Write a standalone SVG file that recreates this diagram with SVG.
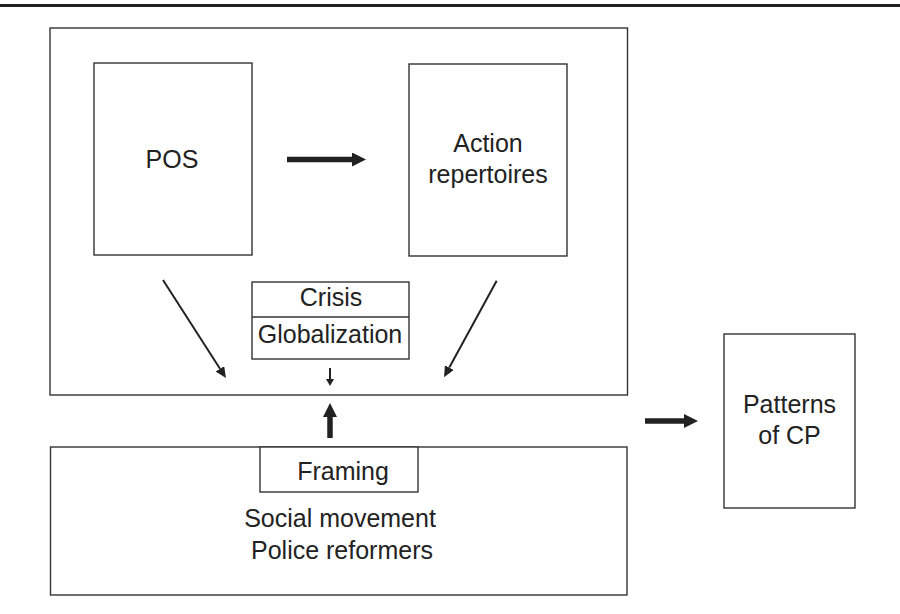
<svg xmlns="http://www.w3.org/2000/svg" width="900" height="614" viewBox="0 0 900 614">
  <defs>
    <style>
      .box { fill: #ffffff; stroke: #333333; stroke-width: 1.4; }
      .lbl { font-family: "Liberation Sans", Arial, sans-serif; font-size: 25px; fill: #222222; text-anchor: middle; }
      .thin { stroke: #222222; stroke-width: 2; fill: none; }
      .thick { stroke: #222222; stroke-width: 5.5; fill: none; }
    </style>
    <marker id="headThin" markerUnits="userSpaceOnUse" markerWidth="11" markerHeight="10" refX="0" refY="5" orient="auto">
      <path d="M0,0 L11,5 L0,10 z" fill="#222222"/>
    </marker>
    <marker id="headSmall" markerUnits="userSpaceOnUse" markerWidth="7" markerHeight="8" refX="0" refY="4" orient="auto">
      <path d="M0,0 L7,4 L0,8 z" fill="#222222"/>
    </marker>
    <marker id="headThick" markerUnits="userSpaceOnUse" markerWidth="14" markerHeight="14" refX="0" refY="7" orient="auto">
      <path d="M0,0 L14,7 L0,14 z" fill="#222222"/>
    </marker>
  </defs>

  <rect width="900" height="614" fill="#ffffff"/>
  <line x1="0" y1="5.5" x2="900" y2="5.5" stroke="#222222" stroke-width="3"/>

  <g id="context">
    <rect class="box" x="50" y="28" width="577.5" height="367"/>
  </g>

  <g id="pos">
    <rect class="box" x="94" y="63" width="158" height="192"/>
    <text class="lbl" x="172" y="168">POS</text>
  </g>

  <g id="action-repertoires">
    <rect class="box" x="409" y="64" width="158" height="192"/>
    <text class="lbl" x="488" y="152">Action</text>
    <text class="lbl" x="488" y="183">repertoires</text>
  </g>

  <g id="crisis-globalization">
    <rect class="box" x="252" y="282" width="157" height="77"/>
    <line x1="252" y1="317" x2="409" y2="317" stroke="#333333" stroke-width="1.4"/>
    <text class="lbl" x="331" y="306">Crisis</text>
    <text class="lbl" x="330" y="343">Globalization</text>
  </g>

  <g id="actors">
    <rect class="box" x="50.5" y="447" width="576.5" height="148"/>
    <text class="lbl" x="340" y="527">Social movement</text>
    <text class="lbl" x="342" y="559">Police reformers</text>
  </g>

  <g id="framing">
    <rect class="box" x="260" y="447" width="158" height="45"/>
    <text class="lbl" x="343" y="480">Framing</text>
  </g>

  <g id="patterns-of-cp">
    <rect class="box" x="724" y="334" width="131" height="174"/>
    <text class="lbl" x="789.5" y="413">Patterns</text>
    <text class="lbl" x="789.5" y="444">of CP</text>
  </g>

  <g id="connectors">
    <line class="thick" x1="287" y1="159.5" x2="352" y2="159.5" marker-end="url(#headThick)"/>
    <line class="thin" x1="163" y1="280" x2="220" y2="368.8" marker-end="url(#headThin)"/>
    <line class="thin" x1="496.7" y1="280.7" x2="449.3" y2="367.6" marker-end="url(#headThin)"/>
    <line class="thin" x1="330" y1="368" x2="330" y2="379" marker-end="url(#headSmall)"/>
    <line class="thick" x1="330" y1="438" x2="330" y2="417" marker-end="url(#headThick)"/>
    <line class="thick" x1="645" y1="421" x2="684" y2="421" marker-end="url(#headThick)"/>
  </g>
</svg>
